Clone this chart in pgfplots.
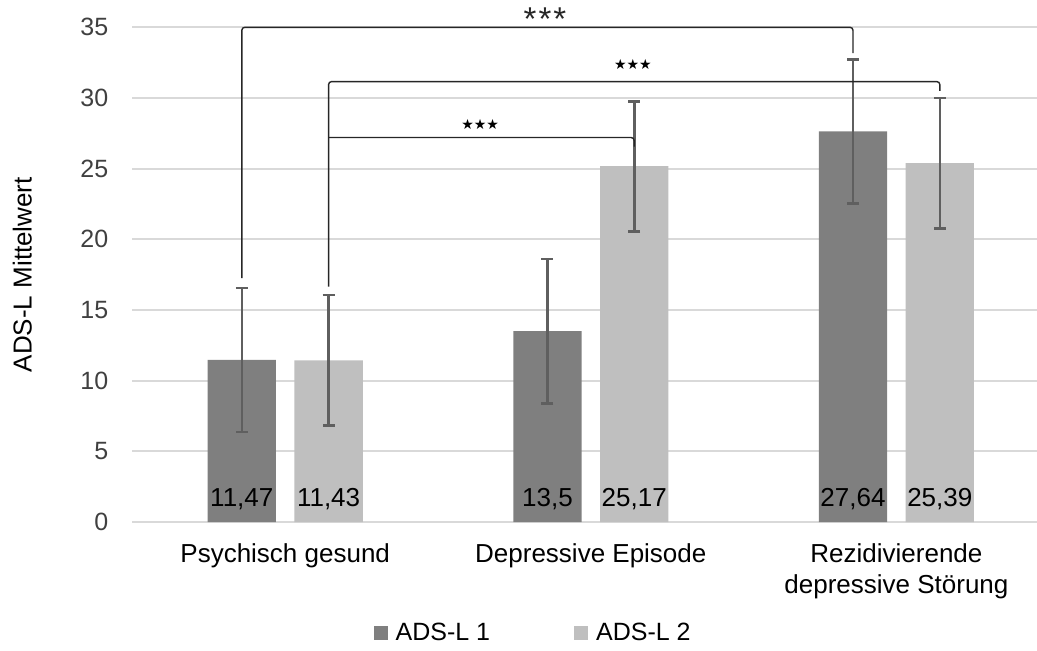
\documentclass[border=0pt]{standalone}
\usepackage{fontspec}
\setmainfont{Liberation Sans}
\newfontfamily\djv{DejaVu Sans}
\usepackage{pgfplots}
\pgfplotsset{compat=1.18}
\usepackage{pgfplotstable}
\definecolor{barA}{HTML}{7F7F7F}
\definecolor{barB}{HTML}{BFBFBF}
\definecolor{gridc}{HTML}{D9D9D9}
\definecolor{errc}{HTML}{5F5F5F}
\definecolor{tickc}{HTML}{404040}
\newcommand\fs{\fontsize{26}{31}\selectfont}
\newcommand\fst{\fontsize{25}{30}\selectfont}

% group positions 0,1,2 ; series offsets -0.142 / +0.142
\pgfplotstableread{
x1 y1 e1 x2 y2 e2
-0.142 11.47 5.09 0.142 11.43 4.62
0.858 13.50 5.10 1.142 25.17 4.60
1.858 27.64 5.09 2.142 25.39 4.62
}\means

\pgfplotstableread{
x y label
-0.142 1.13 11,47
0.142 1.13 11,43
0.858 1.13 13,5
1.142 1.13 25,17
1.858 1.13 27,64
2.142 1.13 25,39
}\labels

\begin{document}
\begin{tikzpicture}[font=\fs]
\path[use as bounding box] (-132.4pt,-129pt) rectangle (904.6pt,522pt);
\begin{axis}[
 scale only axis, width=904.6pt, height=494.7pt,
 xmin=-0.5, xmax=2.46, ymin=0, ymax=35,
 clip=false,
 axis line style={draw=none},
 ymajorgrids, grid style={gridc, line width=2pt},
 major tick length=0pt,
 ytick={0,5,...,35},
 yticklabel style={font=\fst, text=tickc, anchor=east, inner sep=0pt, xshift=-24pt},
 /pgf/number format/assume math mode=true,
 xtick={0,1,2},
 xticklabels={Psychisch gesund, Depressive Episode, {Rezidivierende\\depressive Störung}},
 xticklabel style={font=\fs, align=center, anchor=north, inner sep=0pt, yshift=-21pt},
 legend style={at={(0.443,-0.2244)}, anchor=center, draw=none, fill=none, legend columns=2, font=\fst,
   /tikz/every even column/.append style={column sep=82pt}},
 legend image code/.code={\fill[#1] (0pt,-7pt) rectangle (14pt,7pt); \path (20pt,0pt);},
]
\addplot[ybar, bar width=0.2236, bar shift=0pt, fill=barA, draw=none]
  table[x=x1, y=y1] {\means};
\addlegendentry{ADS-L 1}
\addplot[ybar, bar width=0.2236, bar shift=0pt, fill=barB, draw=none]
  table[x=x2, y=y2] {\means};
\addlegendentry{ADS-L 2}

\addplot[forget plot, errc, line width=2.6pt, mark=none, draw=none,
  error bars/.cd, y dir=both, y explicit,
  error bar style={draw=errc, line width=2.6pt},
  error mark=-, error mark options={draw=errc, line width=2.6pt, mark size=6pt, rotate=90}]
  table[x=x1, y=y1, y error=e1] {\means};
\addplot[forget plot, errc, line width=2.6pt, mark=none, draw=none,
  error bars/.cd, y dir=both, y explicit,
  error bar style={draw=errc, line width=2.6pt},
  error mark=-, error mark options={draw=errc, line width=2.6pt, mark size=6pt, rotate=90}]
  table[x=x2, y=y2, y error=e2] {\means};

\addplot[draw=none, mark=none, forget plot, nodes near coords, point meta=explicit symbolic,
  nodes near coords style={anchor=base, font=\fs, inner sep=0pt, text=black}]
  table[x=x, y=y, meta=label] {\labels};

\draw[black!85, line width=1.4pt, rounded corners=3pt] (axis cs:-0.142,17.25) -- (axis cs:-0.142,35) -- (axis cs:1.858,35) -- (axis cs:1.858,33.17);
\draw[black!85, line width=1.4pt, rounded corners=3pt] (axis cs:0.142,16.65) -- (axis cs:0.142,31.16) -- (axis cs:2.142,31.16) -- (axis cs:2.142,30.5);
\draw[black!85, line width=1.4pt, rounded corners=3pt] (axis cs:0.142,27.2) -- (axis cs:1.142,27.2) -- (axis cs:1.142,26.56);
\node[font=\fontsize{33}{36}\selectfont, text=black!85, inner sep=0pt] at (axis cs:0.850,35.55) {*\kern2pt*\kern2pt*};
\node[font=\djv\fontsize{14}{16}\selectfont, inner sep=0pt] at (axis cs:1.138,32.34) {★★★};
\node[font=\djv\fontsize{14}{16}\selectfont, inner sep=0pt] at (axis cs:0.638,28.1) {★★★};
\end{axis}
\node[rotate=90, font=\fs] at (-110pt,247.35pt) {ADS-L Mittelwert};
\end{tikzpicture}
\end{document}
